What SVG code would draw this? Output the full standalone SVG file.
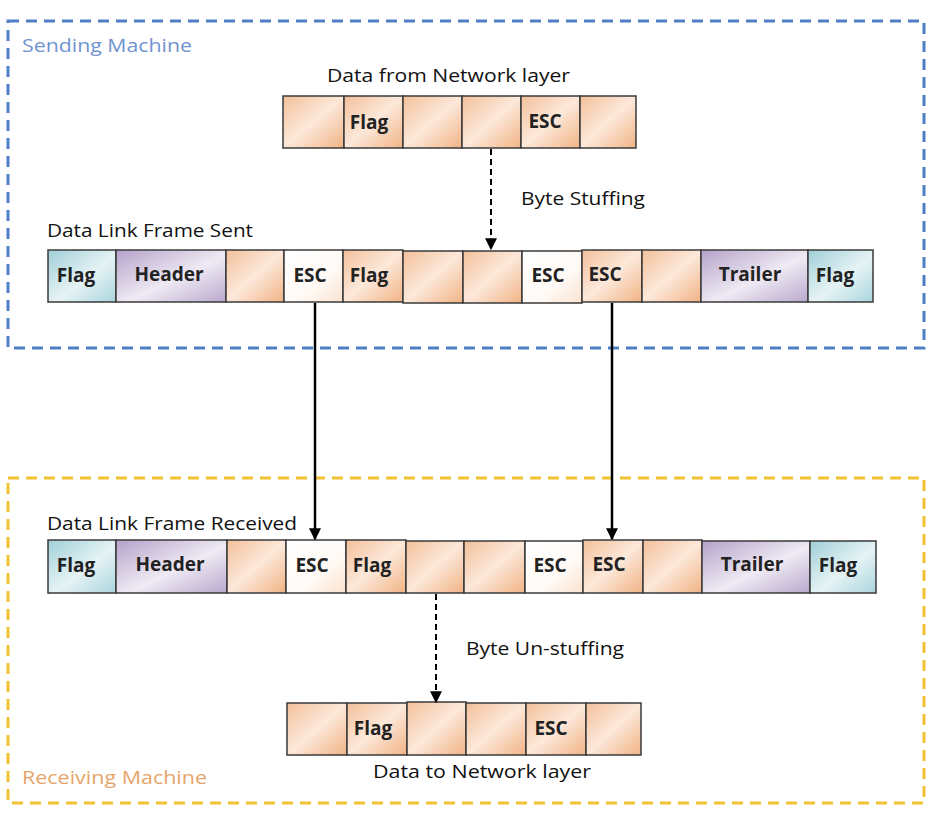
<svg xmlns="http://www.w3.org/2000/svg" width="934" height="824" viewBox="0 0 934 824">
<defs>
<linearGradient id="gO" x1="0" y1="0" x2="1" y2="1">
<stop offset="0" stop-color="#f3c09a"/><stop offset="0.5" stop-color="#fce8da"/><stop offset="1" stop-color="#f1b384"/>
</linearGradient>
<linearGradient id="gW" x1="0" y1="0" x2="1" y2="1">
<stop offset="0" stop-color="#ffffff"/><stop offset="0.6" stop-color="#fffaf6"/><stop offset="1" stop-color="#fbe2cf"/>
</linearGradient>
<linearGradient id="gT" x1="0" y1="0" x2="1" y2="1">
<stop offset="0" stop-color="#9fcfd8"/><stop offset="0.55" stop-color="#e6f3f5"/><stop offset="1" stop-color="#a9d5dd"/>
</linearGradient>
<linearGradient id="gP" x1="0" y1="0" x2="1" y2="1">
<stop offset="0" stop-color="#b4a2c9"/><stop offset="0.55" stop-color="#efeaf4"/><stop offset="1" stop-color="#b9a8cd"/>
</linearGradient>
<marker id="ah" viewBox="0 0 10 10" refX="9" refY="5" markerWidth="12" markerHeight="12" markerUnits="userSpaceOnUse" orient="auto">
<path d="M0,0 L10,5 L0,10 z" fill="#000"/>
</marker>
</defs>
<style>
.c{stroke:#3a3a3a;stroke-width:1.5}
.o{fill:url(#gO)}.w{fill:url(#gW)}.t{fill:url(#gT)}.p{fill:url(#gP)}
.lb{font-family:"Open Sans","Liberation Sans",sans-serif;font-weight:bold;font-size:19px;fill:#222;text-anchor:middle}
.tt{font-family:"Open Sans","Liberation Sans",sans-serif;font-size:19px;fill:#111}
.box{fill:none;stroke-width:3;stroke-dasharray:11 7}
.sol{stroke:#000;stroke-width:2.5;fill:none}
.dsh{stroke:#000;stroke-width:2;fill:none;stroke-dasharray:6 4}
</style>
<rect class="box" x="8" y="21" width="916" height="327" stroke="#4f7ec6"/>
<rect class="box" x="8" y="478" width="916" height="325" stroke="#f0c232"/>
<text x="22" y="52" class="tt" style="fill:#6f93cf" textLength="170" lengthAdjust="spacingAndGlyphs">Sending Machine</text>
<text x="22" y="784" class="tt" style="fill:#e5a56a" textLength="185" lengthAdjust="spacingAndGlyphs">Receiving Machine</text>

<g id="top-data">
<text x="327" y="82" class="tt" textLength="243" lengthAdjust="spacingAndGlyphs">Data from Network layer</text>
<rect class="c o" x="283" y="96" width="61" height="52"/>
<rect class="c o" x="344" y="96" width="59" height="52"/>
<rect class="c o" x="403" y="96" width="59" height="52"/>
<rect class="c o" x="462" y="96" width="59" height="52"/>
<rect class="c o" x="521" y="96" width="59" height="52"/>
<rect class="c o" x="580" y="96" width="56" height="52"/>
<text class="lb" x="369" y="129">Flag</text>
<text class="lb" x="545" y="128">ESC</text>
</g>

<g id="sent-frame">
<text x="47" y="237" class="tt" textLength="206" lengthAdjust="spacingAndGlyphs">Data Link Frame Sent</text>
<rect class="c t" x="48" y="250" width="68" height="52"/>
<rect class="c p" x="116" y="250" width="110" height="52"/>
<rect class="c o" x="226" y="250" width="58" height="52"/>
<rect class="c w" x="284" y="250" width="59" height="52"/>
<rect class="c o" x="343" y="250" width="60" height="52"/>
<rect class="c o" x="403" y="251" width="60" height="52"/>
<rect class="c o" x="463" y="251" width="59" height="52"/>
<rect class="c w" x="522" y="251" width="60" height="52"/>
<rect class="c o" x="582" y="250" width="60" height="52"/>
<rect class="c o" x="642" y="250" width="59" height="52"/>
<rect class="c p" x="701" y="250" width="107" height="52"/>
<rect class="c t" x="808" y="250" width="65" height="52"/>
<text class="lb" x="76" y="282">Flag</text>
<text class="lb" x="169" y="281">Header</text>
<text class="lb" x="310" y="282">ESC</text>
<text class="lb" x="369" y="282">Flag</text>
<text class="lb" x="548" y="282">ESC</text>
<text class="lb" x="605" y="281">ESC</text>
<text class="lb" x="750" y="281">Trailer</text>
<text class="lb" x="835" y="282">Flag</text>
</g>

<g id="recv-frame">
<text x="47" y="530" class="tt" textLength="250" lengthAdjust="spacingAndGlyphs">Data Link Frame Received</text>
<rect class="c t" x="48" y="540" width="68" height="53"/>
<rect class="c p" x="116" y="540" width="111" height="53"/>
<rect class="c o" x="227" y="540" width="59" height="53"/>
<rect class="c w" x="286" y="540" width="60" height="53"/>
<rect class="c o" x="346" y="540" width="60" height="53"/>
<rect class="c o" x="406" y="541" width="58" height="52"/>
<rect class="c o" x="464" y="541" width="61" height="52"/>
<rect class="c w" x="525" y="541" width="58" height="52"/>
<rect class="c o" x="583" y="540" width="60" height="53"/>
<rect class="c o" x="643" y="540" width="59" height="53"/>
<rect class="c p" x="702" y="541" width="108" height="52"/>
<rect class="c t" x="810" y="541" width="66" height="52"/>
<text class="lb" x="76" y="572">Flag</text>
<text class="lb" x="170" y="571">Header</text>
<text class="lb" x="312" y="572">ESC</text>
<text class="lb" x="372" y="572">Flag</text>
<text class="lb" x="550" y="572">ESC</text>
<text class="lb" x="609" y="571">ESC</text>
<text class="lb" x="752" y="571">Trailer</text>
<text class="lb" x="838" y="572">Flag</text>
</g>

<g id="bottom-data">
<rect class="c o" x="287" y="703" width="60" height="52"/>
<rect class="c o" x="347" y="703" width="60" height="52"/>
<rect class="c o" x="407" y="702" width="59" height="53"/>
<rect class="c o" x="466" y="703" width="60" height="52"/>
<rect class="c o" x="526" y="703" width="60" height="52"/>
<rect class="c o" x="586" y="703" width="55" height="52"/>
<text class="lb" x="373" y="735">Flag</text>
<text class="lb" x="551" y="735">ESC</text>
<text x="373" y="778" class="tt" textLength="218" lengthAdjust="spacingAndGlyphs">Data to Network layer</text>
</g>

<g id="connectors">
<line class="dsh" x1="491" y1="149" x2="491" y2="249" marker-end="url(#ah)"/>
<text x="521" y="205" class="tt" textLength="124" lengthAdjust="spacingAndGlyphs">Byte Stuffing</text>
<line class="sol" x1="315" y1="303" x2="315" y2="539" marker-end="url(#ah)"/>
<line class="sol" x1="612" y1="303" x2="612" y2="539" marker-end="url(#ah)"/>
<line class="dsh" x1="436" y1="594" x2="436" y2="702" marker-end="url(#ah)"/>
<text x="466" y="655" class="tt" textLength="158" lengthAdjust="spacingAndGlyphs">Byte Un-stuffing</text>
</g>
</svg>
